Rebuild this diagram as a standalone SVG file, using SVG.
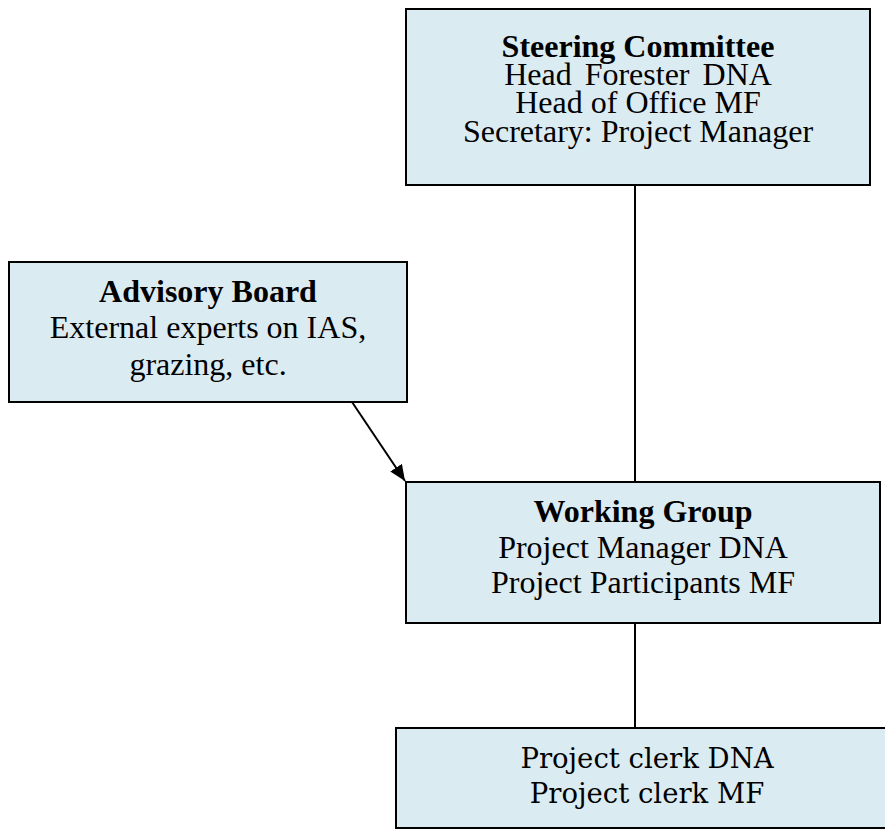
<svg xmlns="http://www.w3.org/2000/svg" width="885" height="830" viewBox="0 0 885 830">
  <defs>
    <marker id="arrowhead" viewBox="0 0 16 14" refX="16" refY="7" markerWidth="16" markerHeight="14" markerUnits="userSpaceOnUse" orient="auto">
      <path d="M0,0 L16,7 L0,14 z" fill="#000"/>
    </marker>
    <style>
      .box { fill: #DBEBF2; stroke: #000; stroke-width: 2; }
      .t { font-family: "Liberation Serif", "Times New Roman", serif; font-size: 32px; fill: #000; text-anchor: middle; }
      .b { font-weight: bold; }
      .g { font-family: "DejaVu Serif", Georgia, serif; font-size: 27.5px; }
      .link { stroke: #000; stroke-width: 2; fill: none; }
    </style>
  </defs>
  <rect width="885" height="830" fill="#fff"/>

  <g id="connectors">
    <line class="link" x1="635" y1="185" x2="635" y2="482"/>
    <line class="link" x1="635" y1="623" x2="635" y2="728"/>
    <line class="link" x1="352" y1="402" x2="405" y2="481" stroke-width="2.5" marker-end="url(#arrowhead)"/>
  </g>

  <g id="steering-committee">
    <rect class="box" x="406" y="9" width="464" height="176"/>
    <text class="t b" x="638" y="57">Steering Committee</text>
    <text class="t" x="638" y="85" word-spacing="5">Head Forester DNA</text>
    <text class="t" x="638" y="113">Head of Office MF</text>
    <text class="t" x="638" y="142">Secretary: Project Manager</text>
  </g>

  <g id="advisory-board">
    <rect class="box" x="9" y="262" width="398" height="140"/>
    <text class="t b" x="208" y="302">Advisory Board</text>
    <text class="t" x="208" y="338">External experts on IAS,</text>
    <text class="t" x="208" y="375">grazing, etc.</text>
  </g>

  <g id="working-group">
    <rect class="box" x="406" y="482" width="474" height="141"/>
    <text class="t b" x="643" y="522">Working Group</text>
    <text class="t" x="643" y="558">Project Manager DNA</text>
    <text class="t" x="643" y="593">Project Participants MF</text>
  </g>

  <g id="project-clerks">
    <rect class="box" x="396" y="728" width="510" height="100"/>
    <text class="t g" x="647" y="768">Project clerk DNA</text>
    <text class="t g" x="647" y="803">Project clerk MF</text>
  </g>
</svg>
